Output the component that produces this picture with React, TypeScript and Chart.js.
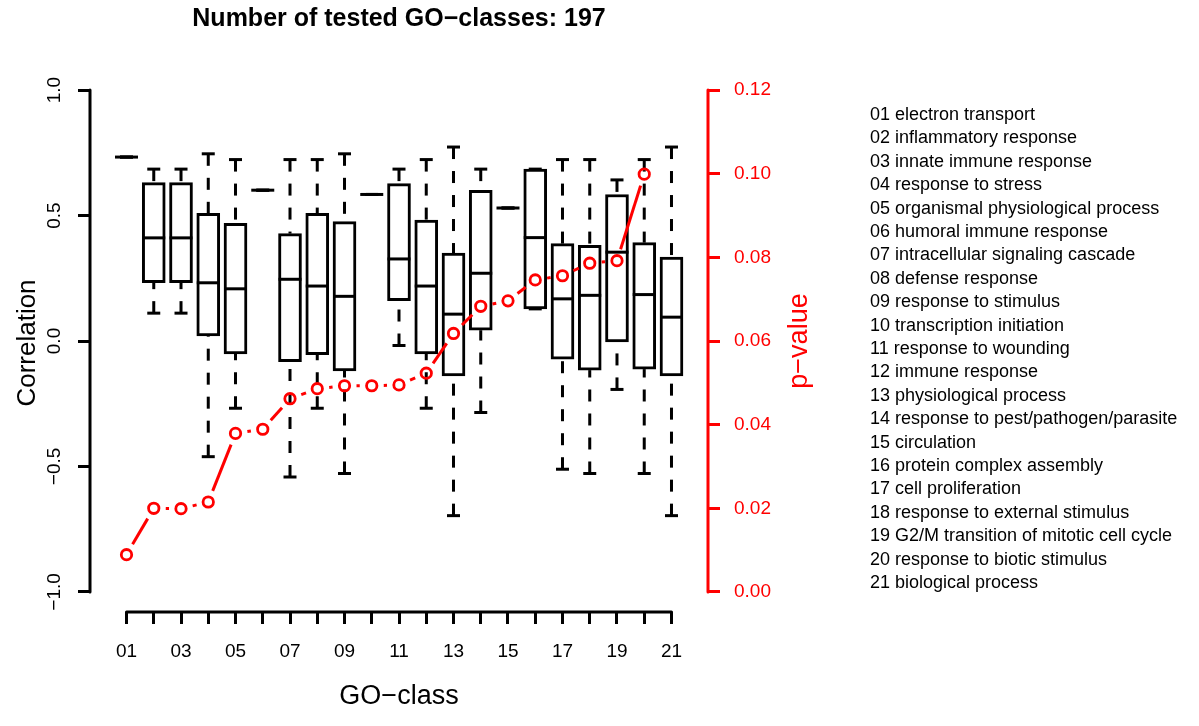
import React, { useEffect, useRef } from "react";
import { Chart, registerables } from "chart.js";

Chart.register(...registerables);

// ---------- data ----------
const categoryCodes = ["01","02","03","04","05","06","07","08","09","10","11","12","13","14","15","16","17","18","19","20","21"];
const categoryNames = [
  "electron transport",
  "inflammatory response",
  "innate immune response",
  "response to stress",
  "organismal physiological process",
  "humoral immune response",
  "intracellular signaling cascade",
  "defense response",
  "response to stimulus",
  "transcription initiation",
  "response to wounding",
  "immune response",
  "physiological process",
  "response to pest/pathogen/parasite",
  "circulation",
  "protein complex assembly",
  "cell proliferation",
  "response to external stimulus",
  "G2/M transition of mitotic cell cycle",
  "response to biotic stimulus",
  "biological process",
];

// box-plot statistics (correlation)
const whiskerLow    = [0.733, 0.111, 0.111, -0.461, -0.268, 0.601, -0.542, -0.268, -0.528, 0.584, -0.018, -0.268, -0.696, -0.285, 0.530, 0.128, -0.511, -0.528, -0.193, -0.528, -0.696];
const lowerQuartile = [0.733, 0.232, 0.232,  0.020, -0.051, 0.601, -0.082, -0.054, -0.119, 0.584,  0.161, -0.051, -0.139,  0.043, 0.530, 0.128, -0.072, -0.116, -0.004, -0.112, -0.139];
const medianValues  = [0.733, 0.411, 0.411,  0.232,  0.208, 0.601,  0.246,  0.219,  0.178, 0.584,  0.327,  0.219,  0.107,  0.270, 0.530, 0.412,  0.168,  0.182,  0.354,  0.185,  0.095];
const upperQuartile = [0.733, 0.631, 0.631,  0.509,  0.469, 0.601,  0.428,  0.509,  0.476, 0.584,  0.627,  0.482,  0.350,  0.600, 0.530, 0.685,  0.388,  0.381,  0.584,  0.392,  0.334];
const whiskerHigh   = [0.733, 0.685, 0.685,  0.746,  0.723, 0.601,  0.723,  0.723,  0.746, 0.584,  0.685,  0.723,  0.773,  0.685, 0.530, 0.685,  0.723,  0.723,  0.642,  0.723,  0.773];

// p-values (right axis)
const pValues = [0.0089, 0.0200, 0.0199, 0.0215, 0.0379, 0.0389, 0.0462, 0.0486, 0.0493, 0.0493, 0.0495, 0.0523, 0.0618, 0.0683, 0.0696, 0.0746, 0.0756, 0.0786, 0.0792, 0.0999, null];

// axis ticks
const corrTicks = [-1, -0.5, 0, 0.5, 1];
const corrTickLabels = ["\u22121.0", "\u22120.5", "0.0", "0.5", "1.0"];
const pTicks = [0, 0.02, 0.04, 0.06, 0.08, 0.1, 0.12];
const pTickLabels = ["0.00", "0.02", "0.04", "0.06", "0.08", "0.10", "0.12"];

const titleText = "Number of tested GO\u2212classes: 197";
const xTitle = "GO\u2212class";
const yTitle = "Correlation";
const y1Title = "p\u2212value";

const FONT = "'Liberation Sans', Arial, Helvetica, sans-serif";
const RED = "#ff0000";

const xPositions = categoryCodes.map((_, i) => i + 1);

const rStylePlugin = {
  id: "rStyle",
  beforeDatasetsDraw(chart: any) {
    const ctx = chart.ctx;
    const xs = chart.scales.x;
    const ys = chart.scales.y;
    ctx.save();
    ctx.strokeStyle = "#000";
    ctx.lineWidth = 3;
    ctx.lineCap = "butt";
    ctx.setLineDash([12, 12]);
    xPositions.forEach((xv, i) => {
      const px = xs.getPixelForValue(xv);
      if (whiskerHigh[i] > upperQuartile[i]) {
        ctx.beginPath();
        ctx.moveTo(px, ys.getPixelForValue(whiskerHigh[i]));
        ctx.lineTo(px, ys.getPixelForValue(upperQuartile[i]));
        ctx.stroke();
      }
      if (whiskerLow[i] < lowerQuartile[i]) {
        ctx.beginPath();
        ctx.moveTo(px, ys.getPixelForValue(whiskerLow[i]));
        ctx.lineTo(px, ys.getPixelForValue(lowerQuartile[i]));
        ctx.stroke();
      }
    });
    ctx.restore();
  },
  afterDraw(chart: any) {
    const ctx = chart.ctx;
    const area = chart.chartArea;
    const xs = chart.scales.x;
    const ys = chart.scales.y;
    const y1s = chart.scales.y1;
    ctx.save();
    ctx.lineWidth = 3;
    ctx.lineCap = "round";
    ctx.setLineDash([]);
    // x axis line
    ctx.strokeStyle = "#000";
    ctx.beginPath();
    ctx.moveTo(xs.getPixelForValue(xPositions[0]), area.bottom);
    ctx.lineTo(xs.getPixelForValue(xPositions[xPositions.length - 1]), area.bottom);
    ctx.stroke();
    // left axis line
    ctx.beginPath();
    ctx.moveTo(area.left, ys.getPixelForValue(corrTicks[0]));
    ctx.lineTo(area.left, ys.getPixelForValue(corrTicks[corrTicks.length - 1]));
    ctx.stroke();
    // right axis line
    ctx.strokeStyle = RED;
    ctx.beginPath();
    ctx.moveTo(area.right, y1s.getPixelForValue(pTicks[0]));
    ctx.lineTo(area.right, y1s.getPixelForValue(pTicks[pTicks.length - 1]));
    ctx.stroke();

    // left rotated tick labels
    ctx.fillStyle = "#000";
    ctx.font = `19px ${FONT}`;
    ctx.textAlign = "center";
    ctx.textBaseline = "middle";
    corrTicks.forEach((v, i) => {
      ctx.save();
      ctx.translate(55, ys.getPixelForValue(v));
      ctx.rotate(-Math.PI / 2);
      ctx.fillText(corrTickLabels[i], 0, 0);
      ctx.restore();
    });

    // axis titles
    const midY = ys.getPixelForValue(0);
    ctx.font = `26px ${FONT}`;
    ctx.save();
    ctx.translate(28, midY + 2);
    ctx.rotate(-Math.PI / 2);
    ctx.fillText(yTitle, 0, 0);
    ctx.restore();

    ctx.font = `27px ${FONT}`;
    ctx.fillStyle = RED;
    ctx.save();
    ctx.translate(800, midY);
    ctx.rotate(-Math.PI / 2);
    ctx.fillText(y1Title, 0, 0);
    ctx.restore();

    ctx.fillStyle = "#000";
    const midX = (area.left + area.right) / 2;
    ctx.fillText(xTitle, midX, 697);

    // main title
    ctx.font = `bold 25px ${FONT}`;
    ctx.fillText(titleText, midX, 19);

    // legend list
    ctx.font = `18px ${FONT}`;
    ctx.textAlign = "left";
    categoryCodes.forEach((c, i) => {
      ctx.fillText(`${c} ${categoryNames[i]}`, 870, 115 + i * 23.4);
    });
    ctx.restore();
  },
};

export default function App() {
  const canvasRef = useRef<HTMLCanvasElement | null>(null);

  useEffect(() => {
    if (!canvasRef.current) return;
    const gapDash = (sc: any) => {
      const L = Math.hypot(sc.p1.x - sc.p0.x, sc.p1.y - sc.p0.y);
      const g = 12;
      if (L <= 2 * g) return [0, L];
      return [0, g, L - 2 * g, g];
    };
    const chart = new Chart(canvasRef.current, {
      type: "line",
      data: {
        datasets: [
          {
            type: "bar",
            label: "box",
            data: xPositions.map((x, i) => ({ x, y: [lowerQuartile[i], upperQuartile[i]] })) as any,
            backgroundColor: "#ffffff",
            borderColor: "#000000",
            borderWidth: 3,
            borderSkipped: false,
            barThickness: 23,
            xAxisID: "x",
            yAxisID: "y",
            order: 5,
          } as any,
          {
            type: "line",
            label: "median",
            data: xPositions.map((x, i) => ({ x, y: medianValues[i] })),
            showLine: false,
            pointStyle: "line",
            pointRadius: 11.5,
            pointHoverRadius: 11.5,
            pointBorderWidth: 3,
            pointBorderColor: "#000",
            xAxisID: "x",
            yAxisID: "y",
            order: 4,
          } as any,
          {
            type: "line",
            label: "caps",
            data: [
              ...xPositions.map((x, i) => ({ x, y: whiskerHigh[i] })),
              ...xPositions.map((x, i) => ({ x, y: whiskerLow[i] })),
            ],
            showLine: false,
            pointStyle: "line",
            pointRadius: 6.5,
            pointHoverRadius: 6.5,
            pointBorderWidth: 3,
            pointBorderColor: "#000",
            xAxisID: "x",
            yAxisID: "y",
            order: 4,
          } as any,
          {
            type: "line",
            label: "p-value",
            data: xPositions.map((x, i) => ({ x, y: pValues[i] })),
            borderColor: RED,
            borderWidth: 3,
            borderCapStyle: "butt",
            spanGaps: false,
            segment: { borderDash: gapDash },
            pointStyle: "circle",
            pointRadius: 5.2,
            pointHoverRadius: 5.2,
            pointBorderWidth: 2.8,
            pointBorderColor: RED,
            pointBackgroundColor: "rgba(0,0,0,0)",
            xAxisID: "x",
            yAxisID: "y1",
            order: 1,
          } as any,
        ],
      },
      options: {
        responsive: false,
        animation: false,
        events: [],
        layout: { padding: { top: 70, left: 0, right: 0, bottom: 0 } },
        plugins: {
          legend: { display: false },
          tooltip: { enabled: false },
          title: { display: false },
        },
        scales: {
          x: {
            type: "linear",
            min: -0.34,
            max: 22.34,
            offset: false,
            afterBuildTicks: (s: any) => {
              s.ticks = xPositions.map((v) => ({ value: v }));
            },
            afterFit: (s: any) => {
              s.height = 114;
            },
            ticks: {
              autoSkip: false,
              maxRotation: 0,
              minRotation: 0,
              padding: 16,
              color: "#000",
              font: { family: FONT, size: 19 },
              callback: (v: any) => (Number(v) % 2 === 1 ? categoryCodes[Number(v) - 1] : ""),
            },
            grid: {
              display: true,
              offset: false,
              drawOnChartArea: false,
              drawTicks: true,
              tickLength: 12,
              tickWidth: 3,
              tickColor: "#000",
              color: "#000",
            },
            border: { display: false },
          },
          y: {
            type: "linear",
            position: "left",
            min: -1.08,
            max: 1.08,
            afterBuildTicks: (s: any) => {
              s.ticks = corrTicks.map((v) => ({ value: v }));
            },
            afterFit: (s: any) => {
              s.width = 90;
            },
            ticks: { color: "rgba(0,0,0,0)", font: { family: FONT, size: 19 } },
            grid: {
              display: true,
              drawOnChartArea: false,
              drawTicks: true,
              tickLength: 12,
              tickWidth: 3,
              tickColor: "#000",
            },
            border: { display: false },
          },
          y1: {
            type: "linear",
            position: "right",
            min: -0.0048,
            max: 0.1248,
            afterBuildTicks: (s: any) => {
              s.ticks = pTicks.map((v) => ({ value: v }));
            },
            afterFit: (s: any) => {
              s.width = 491;
            },
            ticks: {
              color: RED,
              padding: 14,
              font: { family: FONT, size: 19 },
              callback: (_v: any, i: number) => pTickLabels[i],
            },
            grid: {
              display: true,
              drawOnChartArea: false,
              drawTicks: true,
              tickLength: 12,
              tickWidth: 3,
              tickColor: RED,
            },
            border: { display: false },
          },
        },
      } as any,
      plugins: [rStylePlugin],
    });
    return () => chart.destroy();
  }, []);

  return (
    <div style={{ position: "absolute", left: 0, top: 0, width: 1199, height: 726, background: "#fff" }}>
      <canvas ref={canvasRef} width={1199} height={726} style={{ display: "block" }} />
    </div>
  );
}
